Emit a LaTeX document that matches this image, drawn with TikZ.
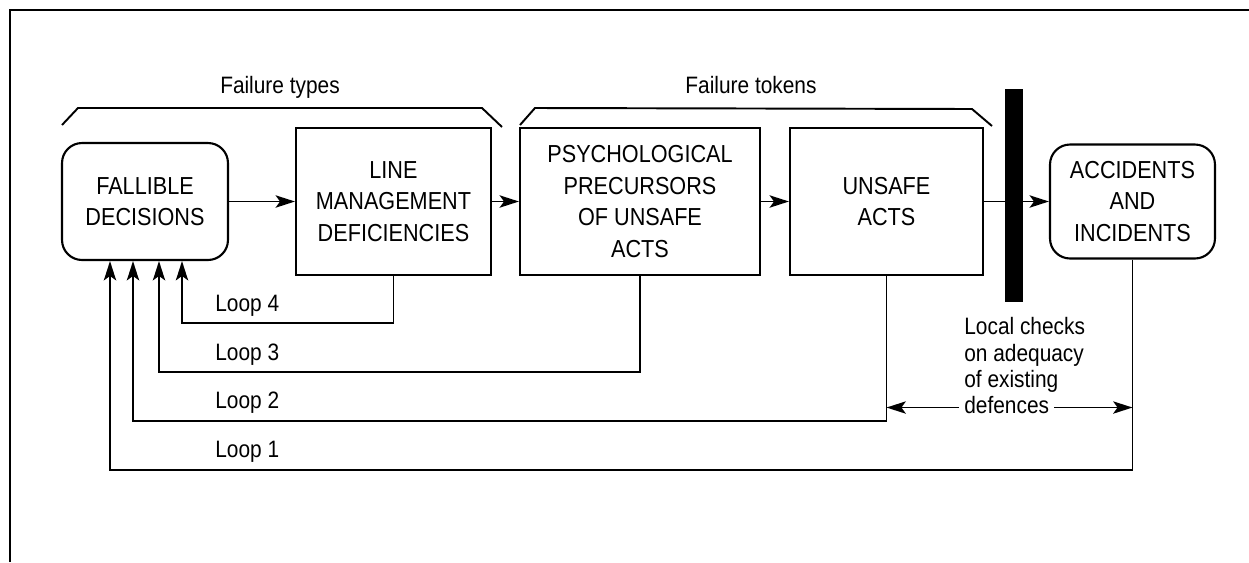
\documentclass[tikz,border=0pt]{standalone}
\usepackage{fontspec}
\setmainfont{Liberation Sans}[FakeStretch=0.88]
\usetikzlibrary{arrows.meta,positioning}
\newcommand\boxfont{\fontsize{14}{18}\selectfont}
\newcommand\lblfont{\fontsize{13.5}{15.1}\selectfont}
\tikzset{
  blk/.style={draw, line width=1.2pt, minimum height=29.4mm, align=center, inner sep=2pt, font=\boxfont},
  rblk/.style={blk, rounded corners=4mm, minimum height=23.4mm},
  fb/.style={line width=1.1pt, -{Stealth[length=11pt,width=7pt,inset=2.5pt]}},
  brk/.style={line width=1.1pt},
  lbl/.style={font=\lblfont, inner sep=0pt},
}
\begin{document}
\begin{tikzpicture}[x=0.02cm,y=-0.02cm]
  \useasboundingbox (0,0) rectangle (1249,562);
  % frame
  \draw[line width=1.2pt] (10,562) -- (10,10) -- (1249,10);
  % the five stages
  \node[rblk, minimum width=33.2mm] (fd) at (145,201.5) {FALLIBLE\\DECISIONS};
  \node[blk, minimum width=39mm] (lm) at (393.5,201.5) {LINE\\MANAGEMENT\\DEFICIENCIES};
  \node[blk, minimum width=48mm] (psy) at (640,201.5) {PSYCHOLOGICAL\\PRECURSORS\\OF UNSAFE\\ACTS};
  \node[blk, minimum width=38.6mm] (ua) at (886.5,201.5) {UNSAFE\\ACTS};
  \node[rblk, minimum width=33mm, minimum height=22.8mm] (acc) at (1132.5,201.5) {ACCIDENTS\\AND\\INCIDENTS};
  \draw[fb] (fd) -- (lm);
  \draw[fb] (lm) -- (psy);
  \draw[fb] (psy) -- (ua);
  \draw[fb] (ua) -- (acc);
  % defences
  \node[fill=black, minimum width=3.6mm, minimum height=42.6mm, inner sep=0pt] (bar) at (1014,195.5) {};
  % brackets
  \draw[brk] (62,125) -- (78,108) -- (482,108) -- (502,127);
  \draw[brk] (520,125) -- (535,108) -- (972,109) -- (992,126);
  \node[lbl, anchor=base] (types) at (280,93) {Failure types};
  \node[lbl, anchor=base] (tokens) at (751,93) {Failure tokens};
  % feedback loops
  \foreach \src/\xd/\ly in {lm/182/323, psy/159/372, ua/133/421, acc/110/470}
    \draw[fb] (\src.south) |- (\xd,\ly) -- (fd.south -| \xd,0);
  \node[lbl, anchor=base west] (lp4) at (215,311) {Loop 4};
  \node[lbl, anchor=base west] (lp3) at (215,360) {Loop 3};
  \node[lbl, anchor=base west] (lp2) at (215,408) {Loop 2};
  \node[lbl, anchor=base west] (lp1) at (215,457) {Loop 1};
  % local checks
  \node[lbl, anchor=north west, align=left] (chk) at (964,317) {Local checks\\on adequacy\\of existing};
  \node[lbl, anchor=base west] (dfn) at (964,413) {defences};
  \draw[fb] ([xshift=-1mm,yshift=-0.6mm]dfn.west) -- ([yshift=-0.6mm]dfn.west -| ua.south);
  \draw[fb] ([xshift=1mm,yshift=-0.6mm]dfn.east) -- ([yshift=-0.6mm]dfn.east -| acc.south);
\end{tikzpicture}
\end{document}
